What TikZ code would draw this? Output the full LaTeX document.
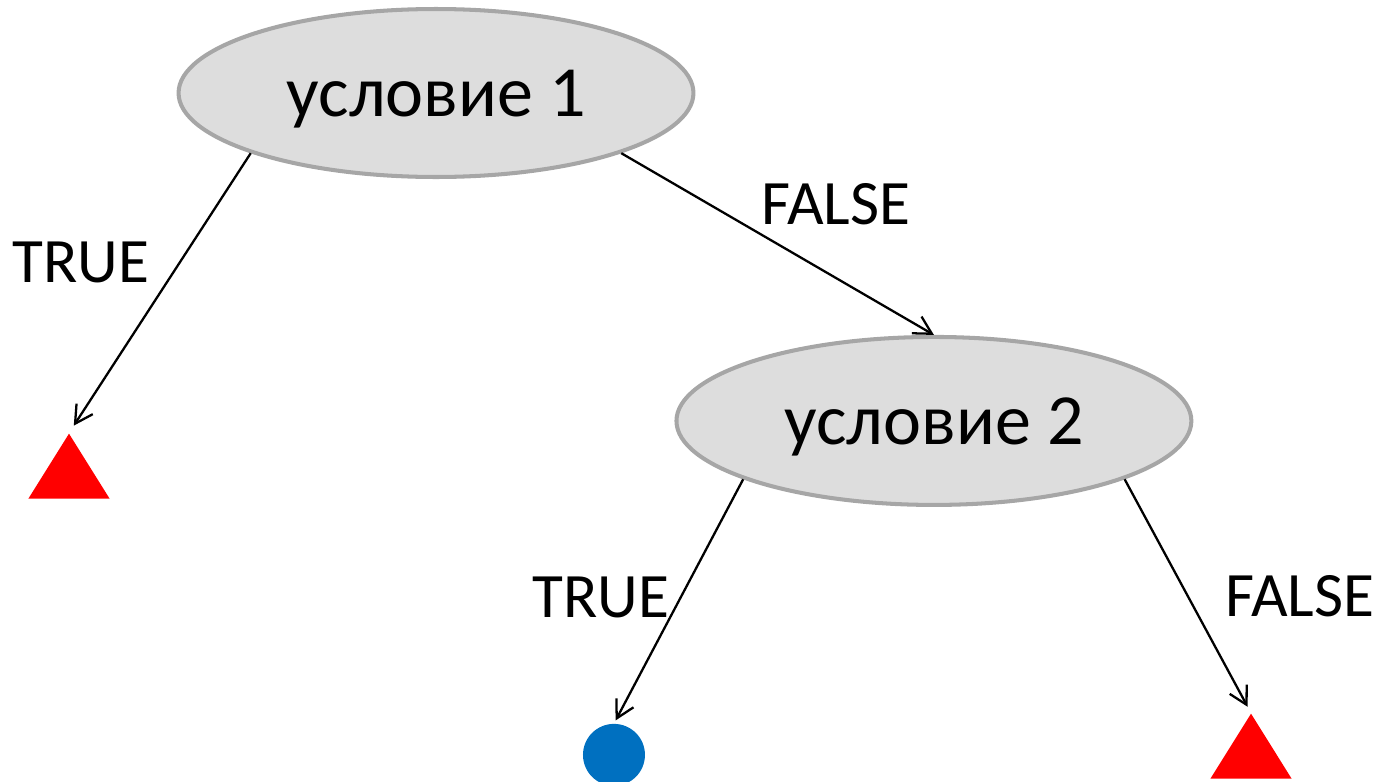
\documentclass[tikz,border=0pt]{standalone}
\usepackage{fontspec}
\setmainfont{Carlito}
\usetikzlibrary{shapes.geometric, arrows.meta, positioning}
\definecolor{condline}{HTML}{A6A6A6}
\definecolor{condfill}{HTML}{DDDDDD}
\definecolor{leafblue}{HTML}{0070C0}

\begin{document}
\begin{tikzpicture}[x=0.02cm, y=-0.02cm, on grid,
  cond/.style={ellipse, draw=condline, line width=2.3pt, fill=condfill, minimum width=10.3cm, minimum height=3.36cm, text depth=0pt, font=\fontsize{41}{49}\selectfont},
  leafno/.style={isosceles triangle, isosceles triangle apex angle=64, shape border rotate=90, fill=red, inner sep=0pt, minimum height=1.3cm},
  leafyes/.style={circle, fill=leafblue, inner sep=0pt, minimum size=1.24cm},
  lbl/.style={font=\fontsize{36}{43}\selectfont},
  arrow/.style={line width=1.3pt, -{Straight Barb[length=10pt, width=11pt]}}
]
\useasboundingbox (0,0) rectangle (1388,781);

\node (cond1) [cond] at (436,93) {условие 1};
\node (cond2) [cond, below right=6.56cm and 9.96cm of cond1] {условие 2};
\node (leafA) [leafno, anchor=apex] at (69,433) {};
\node (leafB) [leafyes, below left=6.68cm and 6.4cm of cond2] {};
\node (leafC) [leafno, anchor=apex] at (1251,713) {};

\node (trueA) [lbl] at (81,262) {TRUE};
\node (falseA) [lbl] at (836,204) {FALSE};
\node (trueB) [lbl] at (601,597) {TRUE};
\node (falseB) [lbl] at (1300,596) {FALSE};

\draw [arrow, shorten >=5pt] (cond1.198) -- (leafA.apex);
\draw [arrow] (cond1.-18) -- (cond2.north);
\draw [arrow, shorten >=2pt] (cond2.197) -- (leafB.north);
\draw [arrow, shorten >=4pt] (cond2.-17) -- (leafC.apex);

\end{tikzpicture}
\end{document}
